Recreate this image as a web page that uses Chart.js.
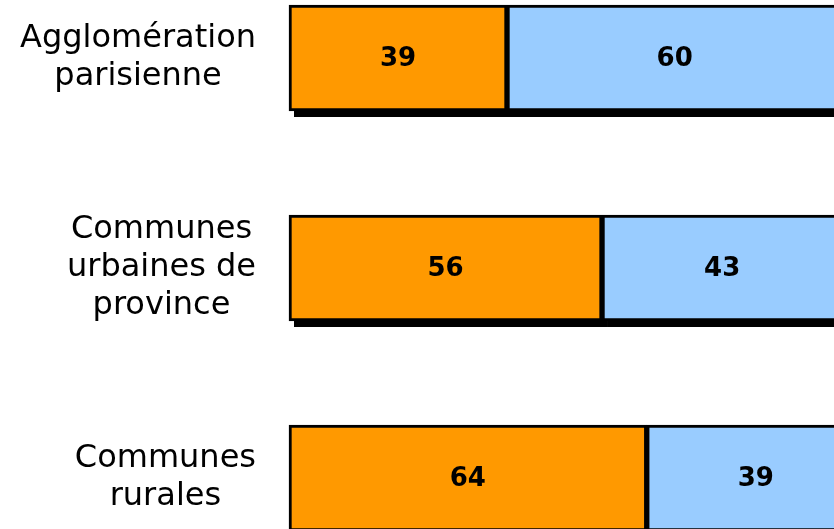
<!DOCTYPE html>
<html>
<head>
<meta charset="utf-8">
<script src="https://cdn.jsdelivr.net/npm/chart.js@4"></script>
<style>
  body { margin: 0; background: #fff; }
  #wrap { width: 834px; height: 529px; position: relative; }
</style>
</head>
<body>
<div id="wrap"><canvas id="myChart"></canvas></div>
<script>
// DATA
const categories = [
    ["Agglomération", "parisienne"],
    ["Communes", "urbaines de", "province"],
    ["Communes", "rurales"]
];
const orangeValues = [39, 56, 64];
const blueValues = [60, 43, 39];

// black drop shadow under the bars, taken from the bar elements
const shadowPlugin = {
    id: "barShadow",
    beforeDatasetsDraw: (chart) => {
        const ctx = chart.ctx;
        ctx.save();
        ctx.fillStyle = "#000";
        chart.data.datasets.forEach((ds, i) => {
            chart.getDatasetMeta(i).data.forEach((bar) => {
                const p = bar.getProps(["x", "y", "base", "height"], true);
                const left = Math.min(p.x, p.base);
                const w = Math.abs(p.x - p.base);
                ctx.fillRect(left + 5, p.y - p.height / 2 + 6, w, p.height);
            });
        });
        ctx.restore();
    }
};

// numbers in the middle of bars + category labels on the left
const labelPlugin = {
    id: "labels",
    afterDatasetsDraw: (chart) => {
        const ctx = chart.ctx;
        ctx.save();
        ctx.fillStyle = "#000";
        ctx.textAlign = "center";
        ctx.textBaseline = "middle";
        ctx.font = "bold 26px 'DejaVu Sans'";
        chart.data.datasets.forEach((ds, i) => {
            chart.getDatasetMeta(i).data.forEach((bar, j) => {
                const p = bar.getCenterPoint();
                ctx.fillText(ds.data[j], p.x, p.y + 1);
            });
        });

        const yScale = chart.scales.y;
        const lineH = 38;
        const right = 256;
        ctx.font = "32px 'DejaVu Sans'";
        categories.forEach((lines, j) => {
            const y = yScale.getPixelForTick(j);
            let w = 0;
            lines.forEach((l) => { w = Math.max(w, ctx.measureText(l).width); });
            const cx = right - w / 2;
            const y0 = y - (lines.length - 1) * lineH / 2;
            lines.forEach((l, k) => {
                ctx.fillText(l, cx, y0 + k * lineH);
            });
        });
        ctx.restore();
    }
};

const config = {
    type: "bar",
    data: {
        labels: categories,
        datasets: [
            {
                label: "orange",
                data: orangeValues,
                backgroundColor: "#FF9900",
                borderColor: "#000",
                borderWidth: 3,
                borderSkipped: false,
                barThickness: 106,
                clip: false
            },
            {
                label: "blue",
                data: blueValues,
                backgroundColor: "#99CCFF",
                borderColor: "#000",
                borderWidth: 3,
                borderSkipped: false,
                barThickness: 106,
                clip: false
            }
        ]
    },
    options: {
        indexAxis: "y",
        responsive: true,
        maintainAspectRatio: false,
        animation: false,
        layout: {
            padding: { left: 289, right: 0, top: 58, bottom: 51 }
        },
        plugins: {
            legend: { display: false },
            tooltip: { enabled: false }
        },
        scales: {
            x: {
                stacked: true,
                display: false,
                min: 0,
                max: 97.5
            },
            y: {
                stacked: true,
                display: false,
                offset: false
            }
        }
    },
    plugins: [shadowPlugin, labelPlugin]
};

var myChart = new Chart(document.querySelector("#myChart"), config);
</script>
</body>
</html>
